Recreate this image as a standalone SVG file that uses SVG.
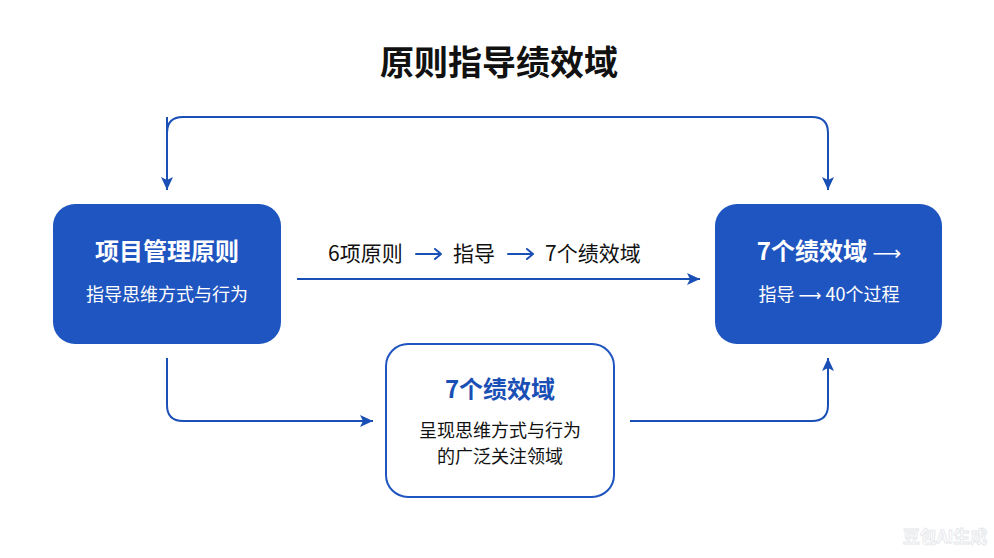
<svg xmlns="http://www.w3.org/2000/svg" width="994" height="558" viewBox="0 0 994 558">
<defs>
<marker id="ah" markerUnits="userSpaceOnUse" markerWidth="14" markerHeight="12" refX="13" refY="6" orient="auto">
<path d="M0,0 L13,6 L0,12 L3,6 Z" fill="#1a4fb5"/>
</marker>
<style>
.t{font-family:"Noto Sans CJK SC","Noto Sans",sans-serif;}
.b{font-weight:700;}
.w{fill:#ffffff;}
.ar{font-family:"DejaVu Sans",sans-serif;font-weight:400;}
.conn{fill:none;stroke:#1a4fb5;stroke-width:2;}
.sa{fill:none;stroke:#1a4fb5;stroke-width:2;stroke-linecap:round;stroke-linejoin:round;}
.blue{fill:#1f55c0;}
</style>
</defs>
<rect width="994" height="558" fill="#ffffff"/>
<text class="t b" x="499" y="75" font-size="34" text-anchor="middle" fill="#111111">原则指导绩效域</text>
<g id="connectors">
<path class="conn" d="M167,117 V190" marker-end="url(#ah)"/>
<path class="conn" d="M167,190 V133 Q167,117 183,117 H812 Q828,117 828,133 V190" marker-end="url(#ah)"/>
<line class="conn" x1="297" y1="279" x2="700" y2="279" marker-end="url(#ah)"/>
<path class="conn" d="M167,358 V405 Q167,421 183,421 H373" marker-end="url(#ah)"/>
<path class="conn" d="M630,421 H812 Q828,421 828,405 V358" marker-end="url(#ah)"/>
</g>
<g id="flow-label">
<text class="t" x="328" y="261" font-size="21" fill="#111111">6项原则</text>
<path class="sa" d="M416,254 H441 M435,249 L441,254 L435,259"/>
<text class="t" x="453" y="261" font-size="21" fill="#111111">指导</text>
<path class="sa" d="M508,254 H533 M527,249 L533,254 L527,259"/>
<text class="t" x="545" y="261" font-size="21" fill="#111111">7个绩效域</text>
</g>
<g id="principles">
<rect x="53" y="204" width="228" height="140" rx="22" class="blue"/>
<text class="t b w" x="167" y="260" font-size="24" text-anchor="middle">项目管理原则</text>
<text class="t w" x="167" y="301" font-size="18" text-anchor="middle">指导思维方式与行为</text>
</g>
<g id="domains-right">
<rect x="715" y="204" width="227" height="140" rx="22" class="blue"/>
<text class="t b w" x="829" y="260" font-size="24" text-anchor="middle">7个绩效域 <tspan class="ar" font-size="20">⟶</tspan></text>
<text class="t w" x="829" y="301" font-size="18" text-anchor="middle">指导 <tspan class="ar" font-size="16">⟶</tspan> 40个过程</text>
</g>
<g id="domains-middle">
<rect x="386" y="344" width="228" height="153" rx="22" fill="#ffffff" stroke="#1f55c0" stroke-width="2"/>
<text class="t b" x="500" y="398" font-size="24" text-anchor="middle" fill="#1a4fb5">7个绩效域</text>
<text class="t" x="500" y="437" font-size="18" text-anchor="middle" fill="#111111">呈现思维方式与行为</text>
<text class="t" x="500" y="463" font-size="18" text-anchor="middle" fill="#111111">的广泛关注领域</text>
</g>
<text class="t b" x="945" y="543" font-size="17" text-anchor="middle" fill="#ffffff" stroke="#e4e6ea" stroke-width="0.8">豆包AI生成</text>
</svg>
